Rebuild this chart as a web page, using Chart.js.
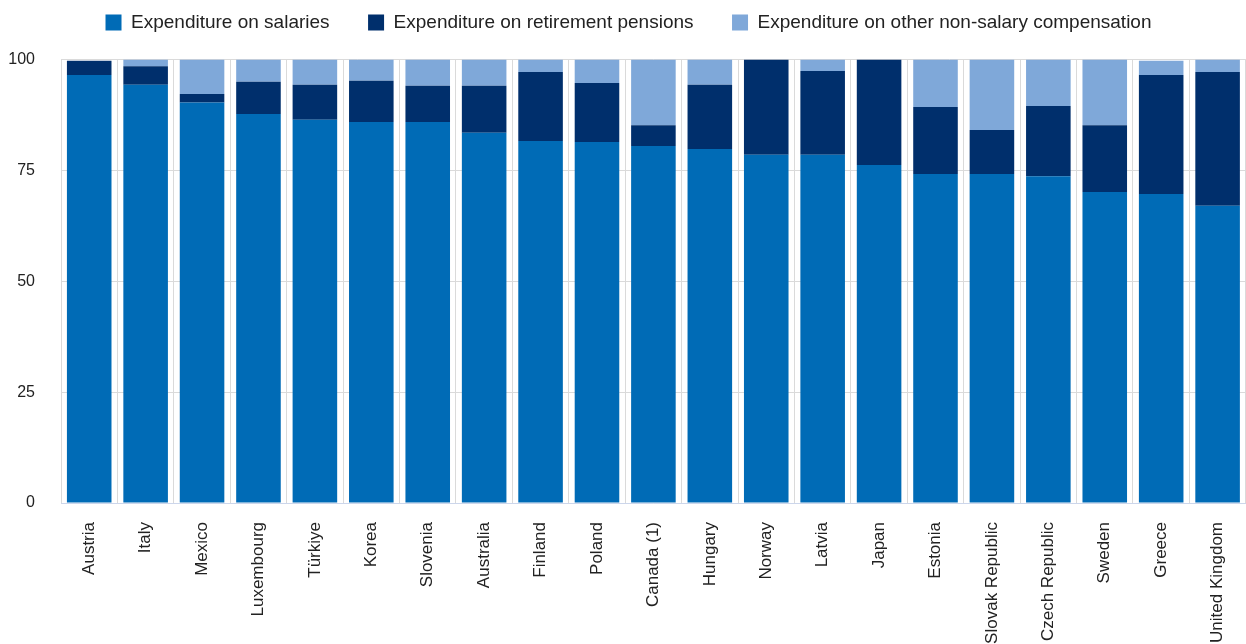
<!DOCTYPE html>
<html>
<head>
<meta charset="utf-8">
<script src="https://cdn.jsdelivr.net/npm/chart.js@4"></script>
<style>
  html, body { margin: 0; padding: 0; background: #fff; overflow: hidden; }
  #wrap { width: 1246px; height: 644px; overflow: hidden; }
</style>
</head>
<body>
<div id="wrap"><canvas id="chart" width="1257" height="644"></canvas></div>
<script>
// Share of expenditure by type, per country (%)
const countries = ['Austria', 'Italy', 'Mexico', 'Luxembourg', 'Türkiye', 'Korea', 'Slovenia', 'Australia',
    'Finland', 'Poland', 'Canada (1)', 'Hungary', 'Norway', 'Latvia', 'Japan', 'Estonia',
    'Slovak Republic', 'Czech Republic', 'Sweden', 'Greece', 'United Kingdom'];
const salaries = [96.5, 94.3, 90.3, 87.7, 86.4, 85.9, 85.9, 83.5, 81.6, 81.4, 80.5, 79.8, 78.5, 78.5, 76.2, 74.2, 74.2, 73.7, 70.1, 69.7, 67.0];
const pensions = [3.2, 4.2, 1.9, 7.3, 7.9, 9.3, 8.2, 10.6, 15.6, 13.3, 4.7, 14.5, 21.5, 18.9, 23.8, 15.1, 9.9, 15.8, 15.1, 26.8, 30.2];
const otherComp = [0, 1.5, 7.8, 5.0, 5.7, 4.8, 5.9, 5.9, 2.8, 5.3, 14.8, 5.7, 0, 2.6, 0, 10.7, 15.9, 10.5, 14.8, 3.2, 2.8];
const yTicks = [0, 25, 50, 75, 100];

const FONT = "Arial, 'Liberation Sans', sans-serif";

// tighten the legend box so the plot starts right under it
const legendFit = {
    id: 'legendFit',
    beforeInit(chart) {
        const fit = chart.legend.fit;
        chart.legend.fit = function () {
            fit.call(this);
            this.height = 85;
        };
    }
};

new Chart(document.getElementById('chart'), {
    type: 'bar',
    data: {
        labels: countries,
        datasets: [
            { label: 'Expenditure on salaries', data: salaries, backgroundColor: '#006BB6' },
            { label: 'Expenditure on retirement pensions', data: pensions, backgroundColor: '#002F6C' },
            { label: 'Expenditure on other non-salary compensation', data: otherComp, backgroundColor: '#7FA8D9' }
        ]
    },
    options: {
        responsive: false,
        animation: false,
        layout: { padding: { top: -25.5, left: 0, right: 0, bottom: 0 } },
        datasets: { bar: { categoryPercentage: 1, barPercentage: 0.79, borderWidth: 0 } },
        plugins: {
            legend: {
                position: 'top',
                labels: {
                    boxWidth: 16, boxHeight: 16, padding: 38.5,
                    color: '#222', font: { family: FONT, size: 19 }
                }
            },
            tooltip: { enabled: false }
        },
        scales: {
            x: {
                stacked: true,
                grid: { color: '#dadada', drawTicks: false, offset: true },
                border: { color: '#ccd6eb', width: 1 },
                ticks: {
                    autoSkip: false, minRotation: 90, maxRotation: 90, padding: 19,
                    color: '#222', font: { family: FONT, size: 17 }
                },
                afterFit(scale) { scale.height = 141; }
            },
            y: {
                stacked: true,
                min: yTicks[0], max: yTicks[yTicks.length - 1],
                afterBuildTicks(scale) { scale.ticks = yTicks.map(v => ({ value: v })); },
                grid: { color: '#dadada', drawTicks: false },
                border: { display: false },
                ticks: { padding: 26, color: '#222', font: { family: FONT, size: 16 } },
                afterFit(scale) { scale.width = 61; }
            }
        }
    },
    plugins: [legendFit]
});
</script>
</body>
</html>
